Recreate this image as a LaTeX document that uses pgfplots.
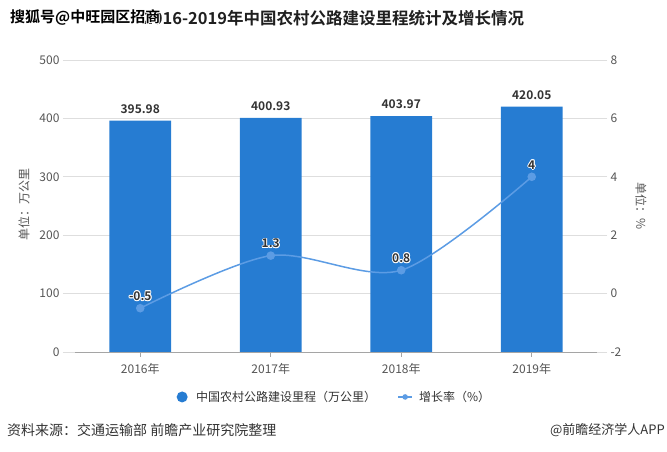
\documentclass[border=0pt]{standalone}
\usepackage{fontspec}
\setmainfont{Noto Sans CJK SC}[BoldFont={Noto Sans CJK SC Bold}]
\usepackage{pgfplots}
\pgfplotsset{compat=1.18}
\definecolor{barblue}{RGB}{38,124,210}
\definecolor{lineblue}{RGB}{92,156,228}
\definecolor{gridgray}{RGB}{222,222,222}
\definecolor{axisgray}{RGB}{165,165,165}
\definecolor{labgray}{RGB}{85,85,85}
\definecolor{txt}{RGB}{51,51,51}
\newcommand\fs[1]{\fontsize{#1}{#1}\selectfont}
\newcommand\halo[1]{\leavevmode
  \rlap{\textcolor{white}{\kern0.9pt#1}}%
  \rlap{\textcolor{white}{\kern-0.9pt#1}}%
  \rlap{\textcolor{white}{\raisebox{0.9pt}{#1}}}%
  \rlap{\textcolor{white}{\raisebox{-0.9pt}{#1}}}%
  \rlap{\textcolor{white}{\kern0.65pt\raisebox{0.65pt}{#1}}}%
  \rlap{\textcolor{white}{\kern-0.65pt\raisebox{0.65pt}{#1}}}%
  \rlap{\textcolor{white}{\kern0.65pt\raisebox{-0.65pt}{#1}}}%
  \rlap{\textcolor{white}{\kern-0.65pt\raisebox{-0.65pt}{#1}}}%
  #1}
\begin{document}
\begin{tikzpicture}
\path[use as bounding box] (0,0) rectangle (667pt,452pt);
\begin{axis}[
  at={(75pt,100pt)}, anchor=south west,
  width=522pt, height=292pt, scale only axis,
  xmin=-0.5, xmax=3.5, ymin=0, ymax=500,
  xtick={0,1,2,3}, xticklabels={2016年,2017年,2018年,2019年},
  ytick={0,100,...,500},
  axis x line*=bottom, axis y line*=left,
  x axis line style={draw=axisgray, -},
  y axis line style={draw=none},
  tick align=outside, major tick length=12pt,
  ytick style={draw=gridgray, line width=0.7pt},
  xtick style={draw=axisgray, line width=0.7pt, /pgfplots/major tick length=5pt},
  xticklabel style={yshift=4pt},
  ymajorgrids, grid style={gridgray, line width=0.7pt},
  tick label style={font=\fs{12}, text=labgray},
  /pgf/number format/assume math mode=true,
  legend style={at={(axis description cs:0.497,-0.154)}, anchor=center, draw=none,
    font=\fs{12}, text=txt, legend columns=2},
]
\addplot[ybar, bar width=0.475, fill=barblue, draw=none,
  nodes near coords, point meta=explicit symbolic,
  every node near coord/.style={font=\bfseries\fs{12}, text=txt, anchor=center, yshift=12pt},
  legend image code/.code={\fill[barblue, draw=none] (0,0) circle (5.5pt); \path[draw=none, fill=none] (-5.5pt,0) -- (12pt,0);}]
  coordinates {(0,395.98)[395.98] (1,400.93)[400.93] (2,403.97)[403.97] (3,420.05)[420.05]};
\addlegendentry{中国农村公路建设里程（万公里）}
\addlegendimage{legend image code/.code={\draw[lineblue, line width=1.3pt] (0pt,0) -- (14pt,0); \fill[lineblue, draw=none] (7pt,0) circle (2.8pt); \path[draw=none, fill=none] (-20pt,0) -- (19pt,0);}}
\addlegendentry{增长率（\%）}
\end{axis}
\begin{axis}[
  at={(75pt,100pt)}, anchor=south west,
  width=522pt, height=292pt, scale only axis,
  xmin=-0.5, xmax=3.5, ymin=-2, ymax=8,
  ytick={-2,0,...,8},
  axis y line*=right, axis x line=none,
  y axis line style={draw=none},
  tick align=outside, major tick length=10pt,
  ytick style={draw=gridgray, line width=0.7pt},
  tick label style={font=\fs{12}, text=labgray},
  /pgf/number format/assume math mode=true,
]
\addplot[lineblue, line width=1.5pt, smooth, tension=0.5,
  mark=*, mark size=3.5pt, mark options={fill=lineblue, draw=lineblue},
  nodes near coords={\halo{\pgfplotspointmeta}}, point meta=explicit symbolic,
  every node near coord/.style={font=\bfseries\fs{12}, text=txt, anchor=center, yshift=12pt}]
  coordinates {(0,-0.5)[-0.5] (1,1.3)[1.3] (2,0.8)[0.8] (3,4)[4]};
\end{axis}
\node[anchor=center, rotate=90, font=\fs{12}, text=labgray] at (24pt,247pt) {单位：万公里};
\node[anchor=center, rotate=-90, font=\fs{12}, text=labgray] at (641pt,246pt) {单位：\%};
\node[anchor=west, inner sep=0, font=\bfseries\fs{16.5}, text=black!88] at (143pt,434pt) {2016-2019年中国农村公路建设里程统计及增长情况};
\node[anchor=west, inner sep=0, font=\bfseries\fs{15}, text=black] at (10pt,434pt) {\halo{搜狐号@中旺园区招商}};
\node[anchor=west, inner sep=0, font=\fs{14}, text=txt] at (7pt,22pt) {资料来源：交通运输部 前瞻产业研究院整理};
\node[anchor=east, inner sep=0, font=\fs{13}, text=txt] at (665pt,22pt) {@前瞻经济学人APP};
\end{tikzpicture}
\end{document}
